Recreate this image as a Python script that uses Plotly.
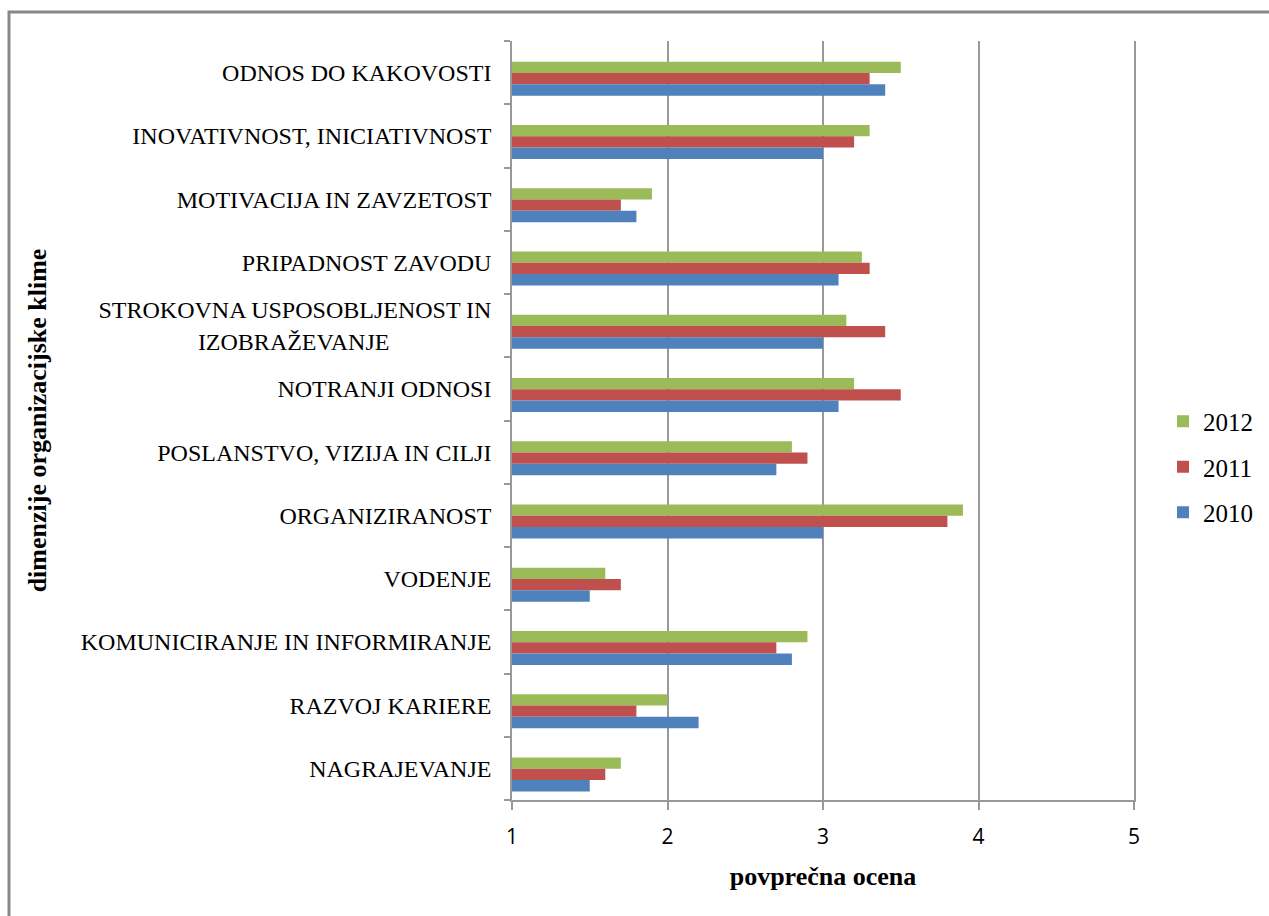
import plotly.graph_objects as go

# Climate dimensions, listed from the bottom of the chart to the top
categories = [
    "NAGRAJEVANJE",
    "RAZVOJ KARIERE",
    "KOMUNICIRANJE IN INFORMIRANJE",
    "VODENJE",
    "ORGANIZIRANOST",
    "POSLANSTVO, VIZIJA IN CILJI",
    "NOTRANJI ODNOSI",
    "STROKOVNA USPOSOBLJENOST IN<br>IZOBRAŽEVANJE" + "\u00a0" * 17,
    "PRIPADNOST ZAVODU",
    "MOTIVACIJA IN ZAVZETOST",
    "INOVATIVNOST, INICIATIVNOST",
    "ODNOS DO KAKOVOSTI",
]

values_2010 = [1.5, 2.2, 2.8, 1.5, 3.0, 2.7, 3.1, 3.0, 3.1, 1.8, 3.0, 3.4]
values_2011 = [1.6, 1.8, 2.7, 1.7, 3.8, 2.9, 3.5, 3.4, 3.3, 1.7, 3.2, 3.3]
values_2012 = [1.7, 2.0, 2.9, 1.6, 3.9, 2.8, 3.2, 3.15, 3.25, 1.9, 3.3, 3.5]

x_ticks = [1, 2, 3, 4, 5]

# bar thickness and position of each series inside its category band
# (listed newest first so the legend reads 2012, 2011, 2010)
bar_width = 0.179
series = [
    ("2012", values_2012, "#9BBB59", -0.006),
    ("2011", values_2011, "#C0504D", -0.185),
    ("2010", values_2010, "#4F81BD", -0.364),
]

fig = go.Figure()
for name, vals, color, off in series:
    fig.add_trace(go.Bar(
        y=categories,
        x=[v - 1 for v in vals],
        base=1,
        name=name,
        legendgroup=name,
        orientation="h",
        width=bar_width,
        offset=off,
        marker=dict(color=color, line=dict(width=0)),
    ))

serif = "Liberation Serif, Times New Roman, serif"
grey = "#999999"

fig.update_layout(
    width=1269,
    height=916,
    barmode="overlay",
    plot_bgcolor="white",
    paper_bgcolor="white",
    margin=dict(l=512, r=135, t=41, b=116, autoexpand=False),
    legend=dict(
        traceorder="grouped",
        x=(1163 - 512) / 622,
        xanchor="left",
        y=(800 - 467) / 759,
        yanchor="middle",
        font=dict(family=serif, size=25, color="black"),
        tracegroupgap=10,
        itemwidth=30,
        bgcolor="rgba(0,0,0,0)",
    ),
    xaxis=dict(
        range=[1, 5],
        tickvals=x_ticks,
        ticktext=[str(t) for t in x_ticks],
        showgrid=True,
        gridcolor=grey,
        gridwidth=1.5,
        showline=True,
        linecolor=grey,
        linewidth=1.5,
        ticks="outside",
        ticklen=8,
        tickcolor=grey,
        tickwidth=1.5,
        ticklabelstandoff=9,
        zeroline=False,
        tickfont=dict(family="Open Sans, sans-serif", size=21, color="black"),
        title=dict(
            text="<b>povprečna ocena</b>",
            font=dict(family=serif, size=26, color="black"),
            standoff=18,
        ),
    ),
    yaxis=dict(
        type="category",
        showline=True,
        mirror=True,
        linecolor=grey,
        linewidth=1.5,
        ticks="outside",
        tickson="boundaries",
        ticklen=6,
        tickcolor=grey,
        tickwidth=1.5,
        ticklabelstandoff=14,
        showgrid=False,
        tickfont=dict(family=serif, size=24, color="black"),
        title=dict(
            text="<b>dimenzije organizacijske klime</b>",
            font=dict(family=serif, size=26, color="black"),
            standoff=27,
        ),
    ),
    shapes=[
        dict(
            type="rect",
            xref="paper", yref="paper",
            x0=(9 - 512) / 622, x1=(1290 - 512) / 622,
            y0=-(940 - 800) / 759, y1=1 + (41 - 12) / 759,
            line=dict(color="#888888", width=3),
            fillcolor="rgba(0,0,0,0)",
            layer="below",
        )
    ],
)

fig.write_html("out.html")
